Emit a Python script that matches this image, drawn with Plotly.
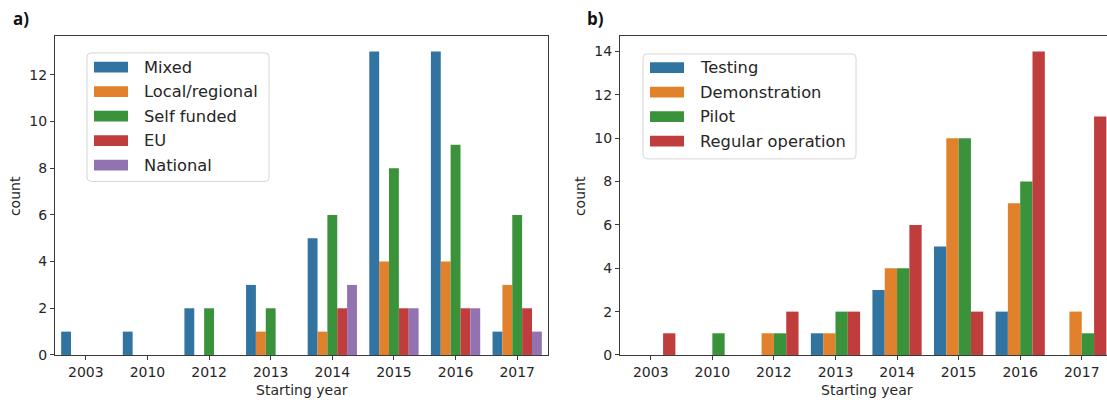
import plotly.graph_objects as go

# ---- data -------------------------------------------------------------
years = ["2003", "2010", "2012", "2013", "2014", "2015", "2016", "2017"]

# panel a: funding source
funding_names = ["Mixed", "Local/regional", "Self funded", "EU", "National"]
mixed = [1, 1, 2, 3, 5, 13, 13, 1]
local_regional = [0, 0, 0, 1, 1, 4, 4, 3]
self_funded = [0, 0, 2, 2, 6, 8, 9, 6]
eu = [0, 0, 0, 0, 2, 2, 2, 2]
national = [0, 0, 0, 0, 3, 2, 2, 1]
funding_values = [mixed, local_regional, self_funded, eu, national]

# panel b: project stage
stage_names = ["Testing", "Demonstration", "Pilot", "Regular operation"]
testing = [0, 0, 0, 1, 3, 5, 2, 0]
demonstration = [0, 0, 1, 1, 4, 10, 7, 2]
pilot = [0, 1, 1, 2, 4, 10, 8, 1]
regular_operation = [1, 0, 2, 2, 6, 2, 14, 11]
stage_values = [testing, demonstration, pilot, regular_operation]

colors = ["#3274a1", "#e1812c", "#3a923a", "#c03d3e", "#9372b2"]

# ---- layout geometry (pixels) -----------------------------------------
W, H = 1107, 412
FONT = "DejaVu Sans"
TXT = "#262626"
SPINE = "#3a3a3a"


def px(x):
    return x / W


def py(y):
    return 1 - y / H


fig = go.Figure()

for name, vals, col in zip(funding_names, funding_values, colors):
    fig.add_trace(go.Bar(x=years, y=vals, name=name, marker=dict(color=col, line=dict(width=0)),
                         xaxis="x", yaxis="y", showlegend=False))

for name, vals, col in zip(stage_names, stage_values, colors):
    fig.add_trace(go.Bar(x=years, y=vals, name=name, marker=dict(color=col, line=dict(width=0)),
                         xaxis="x2", yaxis="y2", showlegend=False))

ydom = [py(362), py(37)]
axis_common = dict(showgrid=False, zeroline=False, showline=True, linecolor=SPINE, linewidth=1,
                   ticks="outside", ticklen=4, tickwidth=1, tickcolor=SPINE,
                   tickfont=dict(family=FONT, size=14, color=TXT))

fig.update_layout(
    width=W, height=H,
    margin=dict(l=0, r=0, t=0, b=0),
    paper_bgcolor="white", plot_bgcolor="white",
    barmode="group", bargap=0.2, bargroupgap=0,
    xaxis=dict(domain=[px(55), px(548)], anchor="y", type="category",
               range=[-0.5, 7.5], mirror=True, **axis_common),
    yaxis=dict(domain=ydom, anchor="x", range=[0, 13.65], tickvals=list(range(0, 13, 2)),
               mirror=True, **axis_common),
    xaxis2=dict(domain=[px(620), 1.0], anchor="y2", type="category",
                range=[-0.5, 7.41], mirror=True, **axis_common),
    yaxis2=dict(domain=ydom, anchor="x2", range=[0, 14.7], tickvals=list(range(0, 15, 2)),
                **axis_common),
)

annotations = []
shapes = []

# axis titles and panel letters
for xc, letter, lx in [(301.5, "a)", 21), (867, "b)", 595)]:
    annotations.append(dict(x=px(xc), y=py(398), xref="paper", yref="paper", text="Starting year",
                            showarrow=False, font=dict(family=FONT, size=14, color=TXT),
                            xanchor="center", yanchor="middle"))
    annotations.append(dict(x=px(lx), y=py(19), xref="paper", yref="paper", text=f"<b>{letter}</b>",
                            showarrow=False, font=dict(family="Open Sans", size=17, color="#111"),
                            xanchor="center", yanchor="middle"))
for xc in [15, 580]:
    annotations.append(dict(x=px(xc), y=py(200), xref="paper", yref="paper", text="count",
                            textangle=-90, showarrow=False,
                            font=dict(family=FONT, size=14, color=TXT),
                            xanchor="center", yanchor="middle"))


def rounded_rect(x0, y0, x1, y1, r=4):
    X0, X1 = px(x0), px(x1)
    Y0, Y1 = py(y0), py(y1)
    rx, ry = r / W, r / H
    return (f"M{X0 + rx},{Y0} L{X1 - rx},{Y0} Q{X1},{Y0} {X1},{Y0 - ry} "
            f"L{X1},{Y1 + ry} Q{X1},{Y1} {X1 - rx},{Y1} L{X0 + rx},{Y1} "
            f"Q{X0},{Y1} {X0},{Y1 + ry} L{X0},{Y0 - ry} Q{X0},{Y0} {X0 + rx},{Y0} Z")


def add_legend(names, left, top, right, bottom, first_y):
    shapes.append(dict(type="path", xref="paper", yref="paper",
                       path=rounded_rect(left, top, right, bottom),
                       line=dict(color="#d6d6d6", width=1), fillcolor="rgba(255,255,255,0.85)"))
    for i, name in enumerate(names):
        yc = first_y + 25 * i
        shapes.append(dict(type="rect", xref="paper", yref="paper",
                           x0=px(left + 7), x1=px(left + 41), y0=py(yc - 5.5), y1=py(yc + 5.5),
                           line=dict(width=0), fillcolor=colors[i]))
        annotations.append(dict(x=px(left + 55), y=py(yc), xref="paper", yref="paper", text=name,
                                showarrow=False, xanchor="left", yanchor="middle",
                                font=dict(family=FONT, size=16.3, color=TXT)))


add_legend(funding_names, 87, 54, 269, 185, 68.5)
add_legend(stage_names, 643, 55, 856, 162, 69)

fig.update_layout(annotations=annotations, shapes=shapes)

fig.write_html("out.html")
